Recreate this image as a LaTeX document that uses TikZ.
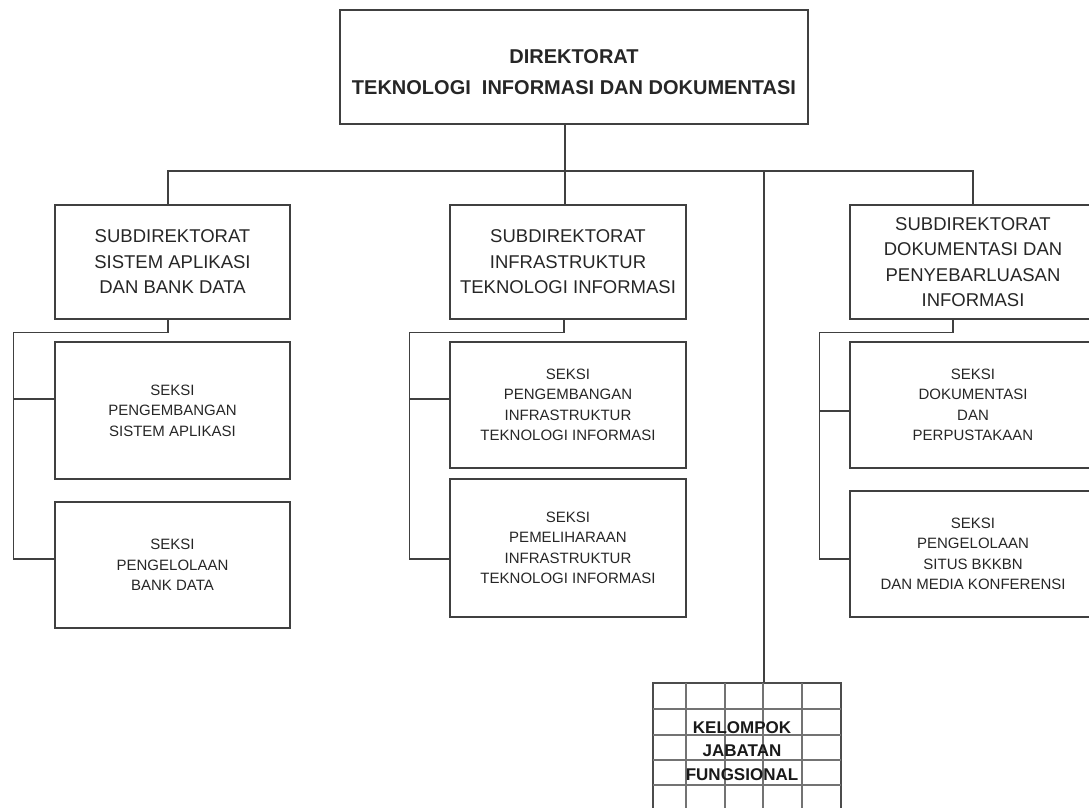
\documentclass[tikz,border=0pt]{standalone}
\usepackage{fontspec}
\setmainfont{Liberation Sans}
\begin{document}
\begin{tikzpicture}[x=1pt,y=-1pt,
  box/.style={draw=black!75, line width=1.1pt, rectangle, inner sep=0pt, align=center, text=black!85},
  ttl/.style={font=\fontsize{20}{31}\selectfont\bfseries},
  sub/.style={font=\fontsize{18.5}{25.5}\selectfont},
  sek/.style={font=\fontsize{15}{20.5}\selectfont},
  link/.style={draw=black!75, line width=1.1pt},
  gridline/.style={draw=black!55, line width=2pt}]
\useasboundingbox (0,0) rectangle (1089,808);

% directorate: frame and its two-line heading
\node[box,minimum width=468pt,minimum height=114pt] (top) at (574,67) {};
\node[align=center, inner sep=0pt, text=black!85, ttl] (toptext) at (574,72)
  {DIREKTORAT\\TEKNOLOGI\ \ INFORMASI DAN DOKUMENTASI};

% sub-directorates
\node[box,sub,minimum width=235pt,minimum height=114pt] (sa) at (172.5,262)
  {SUBDIREKTORAT\\SISTEM APLIKASI\\DAN BANK DATA};
\node[box,sub,minimum width=236pt,minimum height=114pt] (ti) at (568,262)
  {SUBDIREKTORAT\\INFRASTRUKTUR\\TEKNOLOGI INFORMASI};
\node[box,sub,minimum width=246pt,minimum height=114pt] (dp) at (973,262)
  {SUBDIREKTORAT\\DOKUMENTASI DAN\\PENYEBARLUASAN\\INFORMASI};

% sections
\node[box,sek,minimum width=235pt,minimum height=137pt] (sa1) at (172.5,410.5)
  {SEKSI\\PENGEMBANGAN\\SISTEM APLIKASI};
\node[box,sek,minimum width=235pt,minimum height=126pt] (sa2) at (172.5,565)
  {SEKSI\\PENGELOLAAN\\BANK DATA};
\node[box,sek,minimum width=236pt,minimum height=126pt] (ti1) at (568,405)
  {SEKSI\\PENGEMBANGAN\\INFRASTRUKTUR\\TEKNOLOGI INFORMASI};
\node[box,sek,minimum width=236pt,minimum height=138pt] (ti2) at (568,548)
  {SEKSI\\PEMELIHARAAN\\INFRASTRUKTUR\\TEKNOLOGI INFORMASI};
\node[box,sek,minimum width=246pt,minimum height=126pt] (dp1) at (973,405)
  {SEKSI\\DOKUMENTASI\\DAN\\PERPUSTAKAAN};
\node[box,sek,minimum width=246pt,minimum height=126pt] (dp2) at (973,554)
  {SEKSI\\PENGELOLAAN\\SITUS BKKBN\\DAN MEDIA KONFERENSI};

% functional group: gridded box
\node[draw=black!70, line width=1.8pt, rectangle, inner sep=0pt,
      minimum width=188pt, minimum height=128pt] (kj) at (747,747) {};
\foreach \gx in {686,725,763,802}
  \draw[gridline] (\gx,683) -- (\gx,811);
\foreach \gy in {709,735,760,785}
  \draw[gridline] (653,\gy) -- (841,\gy);
\node[align=center, inner sep=0pt, text=black!90,
      font=\fontsize{17}{23.5}\selectfont\bfseries] (kt) at (742,751)
  {KELOMPOK\\JABATAN\\FUNGSIONAL};

% connectors
\coordinate (bus) at (0,171);
\draw[link] ([xshift=-3pt]ti.north) -- ([xshift=-3pt]ti.north |- top.south);
\draw[link] ([xshift=-4.5pt]sa.north) |- (bus -| dp.north) -- (dp.north);
\draw[link] ([xshift=17pt]kj.north) -- ([xshift=17pt]kj.north |- bus);

\draw[link] ([xshift=-4.5pt]sa.south) -- ++(0,13) -| ([xshift=-41pt,yshift=6pt]sa2.west) -- ([yshift=6pt]sa2.west);
\draw[link] ([xshift=-41pt,yshift=11.5pt]sa1.west) -- ([yshift=11.5pt]sa1.west);

\draw[link] ([xshift=-4pt]ti.south) -- ++(0,13) -| ([xshift=-40pt,yshift=-11pt]ti2.west) -- ([yshift=-11pt]ti2.west);
\draw[link] ([xshift=-40pt,yshift=6pt]ti1.west) -- ([yshift=6pt]ti1.west);

\draw[link] ([xshift=-20pt]dp.south) -- ++(0,13) -| ([xshift=-30pt,yshift=-5pt]dp2.west) -- ([yshift=-5pt]dp2.west);
\draw[link] ([xshift=-30pt,yshift=-6pt]dp1.west) -- ([yshift=-6pt]dp1.west);
\end{tikzpicture}
\end{document}
